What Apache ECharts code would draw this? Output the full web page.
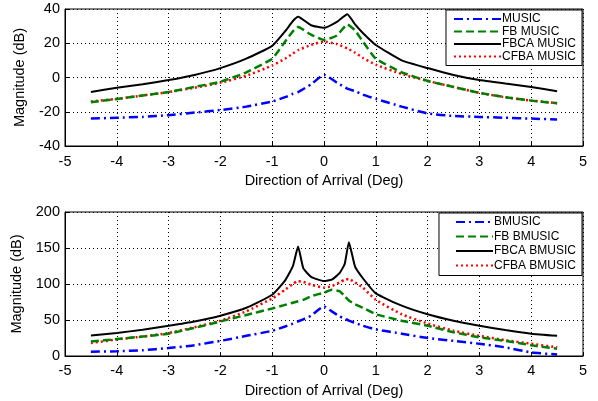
<!DOCTYPE html>
<html>
<head>
<meta charset="utf-8">
<script src="https://cdn.jsdelivr.net/npm/echarts@6/dist/echarts.min.js"></script>
<style>
  html, body { margin: 0; padding: 0; background: #fff; }
  #chart { width: 598px; height: 401px; }
</style>
</head>
<body>
<div id="chart"></div>
<script>
// top panel: MUSIC family
const xTop = [-4.5, -4, -3.5, -3, -2.5, -2, -1.5, -1, -0.75, -0.6, -0.5, -0.25, 0, 0.25, 0.45, 0.6, 0.75, 1, 1.5, 2, 2.5, 3, 3.5, 4, 4.5];
const music = [-24, -23.5, -23, -22, -20.5, -19, -17, -14, -11.5, -9.5, -8.5, -4, 1.5, -3, -6.5, -8, -10, -12.5, -17, -21, -22.5, -23, -23.5, -24, -24.5];
const fbMusic = [-14.5, -12.5, -10.5, -8.5, -5.5, -2.5, 3, 11, 21, 27, 29.5, 25, 22, 24.5, 31, 27.5, 21, 11, 3, -2, -5.5, -9, -11.5, -13.5, -15];
const fbcaMusic = [-8.5, -6, -4, -1.5, 1.5, 5.5, 11, 18.5, 27, 33, 35.5, 30.5, 29, 32.5, 37, 31, 26, 19, 10, 5.5, 1.5, -1.5, -3.5, -5.5, -8];
const cfbaMusic = [-14, -12.5, -10.5, -8.5, -6, -3, 1, 7, 11, 14, 16, 19, 21, 19.5, 17, 14.5, 11.5, 7.5, 2, -2, -5.5, -9, -11.5, -13.5, -15];

// bottom panel: BMUSIC family
const xBot = [-4.5, -4, -3.5, -3, -2.5, -2, -1.5, -1, -0.75, -0.6, -0.5, -0.4, -0.25, 0, 0.15, 0.3, 0.4, 0.48, 0.6, 0.75, 1, 1.5, 2, 2.5, 3, 3.5, 4, 4.5];
const bMusic = [6, 6.5, 8, 11, 15, 21, 28, 35, 41, 45, 48, 51, 56, 69, 62, 55, 52, 49, 46, 42, 37, 31, 25, 21, 17, 12, 5, 2];
const fbBMusic = [20, 23.5, 27, 31, 39, 48, 57, 66, 71, 74, 76, 78, 83, 88, 92, 90, 83, 77, 72, 67, 58, 49, 42, 33, 26, 21, 15, 10];
const fbcaBMusic = [28.5, 32, 36.5, 42, 48, 56, 67, 85, 105, 125, 152, 122, 110, 104, 106, 115, 128, 158, 124, 108, 87, 70, 58, 49, 42, 36, 31, 28];
const cfbaBMusic = [18, 23, 27, 32, 40, 49, 62, 80, 92, 100, 104, 103, 99, 95, 97, 102, 106, 107, 102, 95, 78, 58, 45, 35, 28, 22, 17, 12];

const namesTop = ['MUSIC', 'FB MUSIC', 'FBCA MUSIC', 'CFBA MUSIC'];
const namesBot = ['BMUSIC', 'FB BMUSIC', 'FBCA BMUSIC', 'CFBA BMUSIC'];

const pairs = (xs, ys) => xs.map((x, i) => [x, ys[i]]);

const styles = [
  { color: '#0000ff', type: [9, 4, 2, 4], width: 2.5 },
  { color: '#008000', type: [8, 4], width: 2.5 },
  { color: '#000000', type: 'solid', width: 2 },
  { color: '#ff0000', type: [2, 3], width: 2.5 }
];

const font = 'Liberation Sans, Arial, sans-serif';

function makeSeries(names, xs, sets, idx) {
  return sets.map((ys, i) => ({
    name: names[i],
    type: 'line',
    xAxisIndex: idx,
    yAxisIndex: idx,
    symbol: 'none',
    smooth: 0.15,
    animation: false,
    data: pairs(xs, ys),
    lineStyle: styles[i],
    itemStyle: { color: styles[i].color },
    z: 10 - i
  }));
}

const xAxisBase = {
  type: 'value',
  min: -5,
  max: 5,
  interval: 1,
  name: 'Direction of Arrival (Deg)',
  nameLocation: 'middle',
  nameGap: 27,
  nameTextStyle: { color: '#000', fontSize: 14.5, fontFamily: font },
  axisLine: { onZero: false, lineStyle: { color: '#000', width: 1 } },
  axisTick: { inside: true, length: 4, lineStyle: { color: '#000' } },
  axisLabel: { color: '#000', fontSize: 14.5, fontFamily: font },
  splitLine: { show: true, lineStyle: { color: '#000', type: [1, 3], width: 1 } }
};

const yAxisBase = {
  type: 'value',
  name: 'Magnitude (dB)',
  nameLocation: 'middle',
  nameGap: 38,
  nameTextStyle: { color: '#000', fontSize: 14.5, fontFamily: font },
  axisLine: { show: true, onZero: false, lineStyle: { color: '#000', width: 1 } },
  axisTick: { show: true, inside: true, length: 4, lineStyle: { color: '#000' } },
  axisLabel: { color: '#000', fontSize: 14.5, fontFamily: font, margin: 5 },
  splitLine: { show: true, lineStyle: { color: '#000', type: [1, 3], width: 1 } }
};

const legendBase = {
  orient: 'vertical',
  right: 16,
  backgroundColor: '#fff',
  borderColor: '#000',
  borderWidth: 1,
  borderRadius: 0,
  itemHeight: 10,
  align: 'left',
  itemStyle: { opacity: 0 },
  textStyle: { color: '#000', fontSize: 12, fontFamily: font, lineHeight: 12, padding: [0, 0, 0, -4] }
};

const chart = echarts.init(document.getElementById('chart'));
chart.setOption({
  backgroundColor: '#fff',
  animation: false,
  grid: [
    { left: 65, top: 9, width: 518, height: 137, show: true, borderColor: '#000', borderWidth: 1, backgroundColor: 'transparent' },
    { left: 65, top: 212, width: 518, height: 144, show: true, borderColor: '#000', borderWidth: 1, backgroundColor: 'transparent' }
  ],
  xAxis: [
    Object.assign({}, xAxisBase, { gridIndex: 0, axisLabel: Object.assign({}, xAxisBase.axisLabel, { margin: 8 }) }),
    Object.assign({}, xAxisBase, { gridIndex: 1, axisLabel: Object.assign({}, xAxisBase.axisLabel, { margin: 7 }) })
  ],
  yAxis: [
    Object.assign({}, yAxisBase, { gridIndex: 0, min: -40, max: 40, interval: 20 }),
    Object.assign({}, yAxisBase, { gridIndex: 1, min: 0, max: 200, interval: 50 })
  ],
  legend: [
    Object.assign({}, legendBase, { top: 10, data: namesTop, itemWidth: 47, itemGap: 0.5, padding: [3, 6, 3, 7] }),
    Object.assign({}, legendBase, { top: 213, data: namesBot, itemWidth: 37, itemGap: 2.5, padding: [3, 6, 4, 16] })
  ],
  series: [].concat(
    makeSeries(namesTop, xTop, [music, fbMusic, fbcaMusic, cfbaMusic], 0),
    makeSeries(namesBot, xBot, [bMusic, fbBMusic, fbcaBMusic, cfbaBMusic], 1)
  )
});
</script>
</body>
</html>
